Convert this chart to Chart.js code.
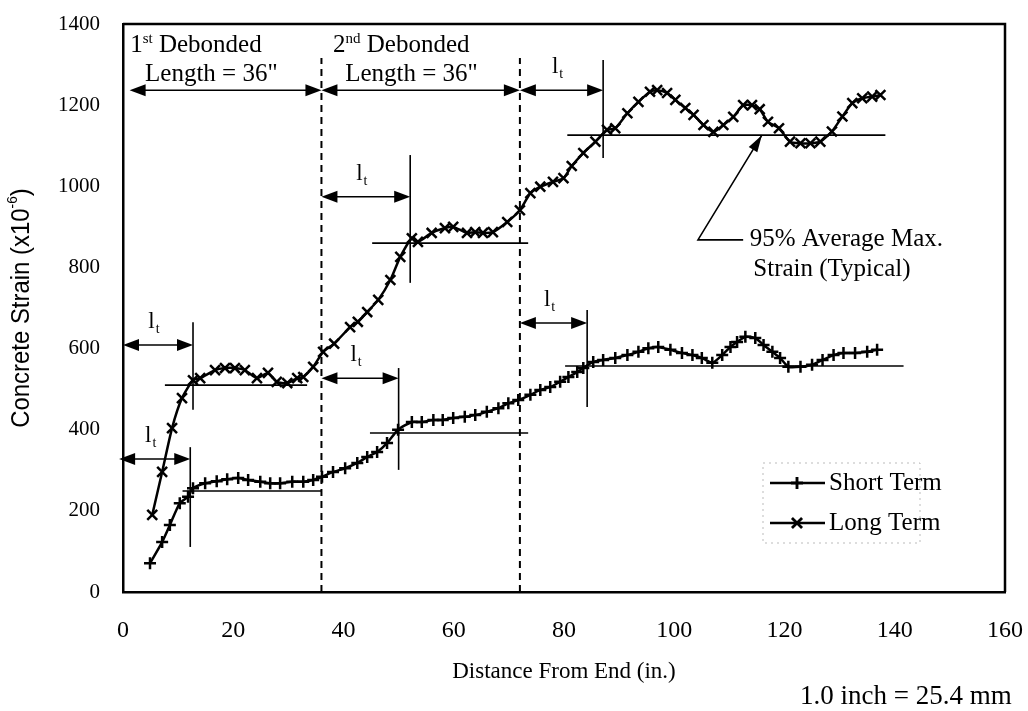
<!DOCTYPE html>
<html>
<head>
<meta charset="utf-8">
<script src="https://cdn.jsdelivr.net/npm/chart.js@4.4.0/dist/chart.umd.min.js"></script>
<style>
  html, body { margin: 0; padding: 0; background: #fff; }
  canvas { display: block; }
</style>
</head>
<body>
<canvas id="strainChart" width="1028" height="711"></canvas>
<script>
// distance from end (in.) and concrete strain (x10^-6)
let shortX = [4.9, 7.1, 8.5, 10.3, 11.8, 12.7, 14.9, 17.0, 18.9, 20.9, 22.7, 24.9, 26.7, 28.5, 30.7, 32.7, 34.5, 36.1,
  38.1, 40.3, 42.5, 44.3, 46.1, 47.9, 49.9, 52.4, 54.2, 56.3, 58.0, 59.9, 62.0, 63.9, 66.0, 68.1, 69.9, 71.7,
  73.9, 75.7, 77.5, 79.3, 80.8, 82.4, 83.5, 85.3, 87.1, 89.3, 91.5, 93.5, 95.3, 97.1, 99.3, 101.4, 103.3, 105.0,
  106.9, 108.7, 110.2, 111.4, 112.9, 114.7, 116.2, 117.8, 119.2, 120.7, 122.9, 125.0, 126.9, 128.9, 130.7, 132.8, 135.0, 136.8];
let shortY = [71, 123, 165, 219, 235, 256, 268, 273, 278, 281, 276, 272, 268, 268, 272, 272, 276, 284,
  296, 305, 318, 333, 345, 367, 400, 419, 419, 424, 424, 429, 432, 436, 444, 453, 465, 473,
  486, 498, 505, 518, 530, 542, 552, 567, 572, 577, 584, 592, 601, 604, 597, 589, 584, 577,
  565, 584, 604, 616, 629, 626, 609, 592, 577, 555, 555, 560, 572, 584, 589, 589, 592, 597];

let longX = [5.3, 7.1, 8.9, 10.7, 12.7, 14.0, 16.7, 18.5, 20.3, 22.1, 24.3, 26.3, 27.9, 29.8, 31.6, 32.7, 34.5, 36.3,
  38.3, 41.2, 42.6, 44.3, 46.3, 48.5, 50.3, 52.4, 53.5, 56.0, 58.4, 59.9, 62.4, 63.9, 65.3, 67.1, 69.7, 72.0,
  73.9, 75.7, 78.0, 79.9, 81.4, 83.5, 85.7, 87.8, 89.3, 91.5, 93.5, 95.6, 96.9, 98.7, 100.2, 102.0, 103.5, 105.3,
  107.1, 108.9, 110.7, 112.5, 114.1, 115.5, 117.0, 119.0, 121.0, 122.9, 124.7, 126.5, 128.6, 130.5, 132.3, 134.1, 135.9, 137.4];
let longY = [190, 296, 404, 478, 522, 527, 547, 552, 552, 547, 527, 540, 518, 515, 527, 530, 555, 592,
  612, 653, 666, 690, 720, 769, 826, 872, 863, 885, 897, 900, 885, 887, 885, 887, 912, 941,
  983, 999, 1011, 1020, 1050, 1082, 1110, 1139, 1143, 1180, 1208, 1233, 1237, 1230, 1213, 1193, 1176, 1151,
  1134, 1151, 1171, 1200, 1200, 1190, 1159, 1143, 1110, 1106, 1106, 1110, 1135, 1172, 1205, 1217, 1221, 1225];

let xTicks = [0, 20, 40, 60, 80, 100, 120, 140, 160];
let yTicks = [0, 200, 400, 600, 800, 1000, 1200, 1400];

// ends of the 1st and 2nd debonded lengths
let debondEnds = [36, 72];

// 95% average max strain levels: [from, to, strain]
let plateauLong = [[7.6, 33.4, 510], [45.2, 73.5, 860], [80.6, 138.3, 1126]];
let plateauShort = [[10.8, 36, 249], [44.8, 73.5, 392], [80.2, 141.6, 557]];

// transfer lengths: [from, to, arrow strain, mark top, mark bottom]
let transferLong = [[0, 12.7, 609, 665, 449], [36, 52.1, 974, 1077, 762], [72, 87.1, 1237, 1311, 1070]];
let transferShort = [[-0.7, 12.2, 328, 357, 111], [36, 50, 527, 552, 301], [72, 84.2, 663, 695, 456]];

const serif = '"Liberation Serif", "Times New Roman", serif';
const sans = '"Liberation Sans", Arial, sans-serif';

function toPoints(xs, ys) {
  return xs.map((x, i) => ({ x: x, y: ys[i] }));
}

function arrowHead(ctx, tipX, tipY, dir) {
  // dir: 1 points right, -1 points left
  ctx.beginPath();
  ctx.moveTo(tipX, tipY);
  ctx.lineTo(tipX - dir * 16, tipY - 6);
  ctx.lineTo(tipX - dir * 16, tipY + 6);
  ctx.closePath();
  ctx.fill();
}

function dimLine(ctx, x1, x2, y) {
  ctx.beginPath();
  ctx.moveTo(x1 + 10, y);
  ctx.lineTo(x2 - 10, y);
  ctx.stroke();
  arrowHead(ctx, x1, y, -1);
  arrowHead(ctx, x2, y, 1);
}

// "l" with subscript "t", centred on cx
function ltLabel(ctx, cx, baseY) {
  ctx.font = '23px ' + serif;
  let w1 = ctx.measureText('l').width;
  ctx.font = '14px ' + serif;
  let w2 = ctx.measureText('t').width;
  let x0 = cx - (w1 + w2 + 1) / 2;
  ctx.textAlign = 'left';
  ctx.textBaseline = 'alphabetic';
  ctx.font = '23px ' + serif;
  ctx.fillText('l', x0, baseY);
  ctx.font = '14px ' + serif;
  ctx.fillText('t', x0 + w1 + 1, baseY + 5);
}

// text with a raised part, e.g. 1st
function supText(ctx, x, y, base, sup, rest, size) {
  ctx.textAlign = 'left';
  ctx.textBaseline = 'alphabetic';
  ctx.font = size + 'px ' + serif;
  ctx.fillText(base, x, y);
  let w = ctx.measureText(base).width;
  ctx.font = Math.round(size * 0.6) + 'px ' + serif;
  ctx.fillText(sup, x + w, y - size * 0.36);
  let w2 = ctx.measureText(sup).width;
  ctx.font = size + 'px ' + serif;
  ctx.fillText(' ' + rest, x + w + w2, y);
}

const annotations = {
  id: 'annotations',
  beforeDatasetsDraw(chart) {
    const ctx = chart.ctx;
    const xs = chart.scales.x, ys = chart.scales.y;
    const px = v => xs.getPixelForValue(v);
    const py = v => ys.getPixelForValue(v);
    ctx.save();
    ctx.strokeStyle = '#000';
    ctx.fillStyle = '#000';

    // dashed boundaries between debonded lengths
    ctx.lineWidth = 2;
    ctx.setLineDash([7, 5]);
    debondEnds.forEach(x => {
      ctx.beginPath();
      ctx.moveTo(px(x), py(0));
      ctx.lineTo(px(x), py(1316));
      ctx.stroke();
    });
    ctx.setLineDash([]);

    // plateau levels
    ctx.lineWidth = 1.6;
    plateauLong.concat(plateauShort).forEach(p => {
      ctx.beginPath();
      ctx.moveTo(px(p[0]), py(p[2]));
      ctx.lineTo(px(p[1]), py(p[2]));
      ctx.stroke();
    });

    // transfer length marks and arrows
    transferLong.concat(transferShort).forEach(t => {
      ctx.lineWidth = 1.6;
      ctx.beginPath();
      ctx.moveTo(px(t[1]), py(t[3]));
      ctx.lineTo(px(t[1]), py(t[4]));
      ctx.stroke();
      ctx.lineWidth = 1.5;
      dimLine(ctx, px(t[0]), px(t[1]), py(t[2]));
      ltLabel(ctx, (px(t[0]) + px(t[1])) / 2 - 4, py(t[2]) - 17);
    });

    // debonded length arrows
    ctx.lineWidth = 1.5;
    dimLine(ctx, px(1.2), px(36), py(1237));
    dimLine(ctx, px(36), px(72), py(1237));

    // leader for the typical 95% level
    ctx.lineWidth = 1.6;
    let tipX = px(115.9), tipY = py(1126);
    let cX = px(104.3), cY = py(868);
    ctx.beginPath();
    ctx.moveTo(px(112.5), cY);
    ctx.lineTo(cX, cY);
    ctx.lineTo(tipX, tipY);
    ctx.stroke();
    let ang = Math.atan2(tipY - cY, tipX - cX);
    ctx.beginPath();
    ctx.moveTo(tipX, tipY);
    ctx.lineTo(tipX - 17 * Math.cos(ang) + 5 * Math.sin(ang), tipY - 17 * Math.sin(ang) - 5 * Math.cos(ang));
    ctx.lineTo(tipX - 17 * Math.cos(ang) - 5 * Math.sin(ang), tipY - 17 * Math.sin(ang) + 5 * Math.cos(ang));
    ctx.closePath();
    ctx.fill();
    ctx.restore();
  },
  afterDraw(chart) {
    const ctx = chart.ctx;
    const xs = chart.scales.x, ys = chart.scales.y;
    const px = v => xs.getPixelForValue(v);
    const py = v => ys.getPixelForValue(v);
    const area = chart.chartArea;
    ctx.save();
    ctx.fillStyle = '#000';
    ctx.strokeStyle = '#000';

    // frame top and right
    ctx.lineWidth = 2.5;
    ctx.beginPath();
    ctx.moveTo(area.left, area.top);
    ctx.lineTo(area.right, area.top);
    ctx.lineTo(area.right, area.bottom);
    ctx.stroke();

    // debonded length labels
    supText(ctx, px(1.3), py(1330), '1', 'st', 'Debonded', 25);
    ctx.font = '25px ' + serif;
    ctx.fillText('Length = 36"', px(4.0), py(1260));
    supText(ctx, px(38.1), py(1330), '2', 'nd', 'Debonded', 25);
    ctx.font = '25px ' + serif;
    ctx.fillText('Length = 36"', px(40.3), py(1260));

    // typical level note
    ctx.font = '25px ' + serif;
    ctx.textBaseline = 'middle';
    ctx.textAlign = 'left';
    ctx.fillText('95% Average Max.', px(113.7), py(868));
    ctx.textAlign = 'center';
    ctx.fillText('Strain (Typical)', px(128.6), py(794));

    // y axis title with exponent
    ctx.save();
    ctx.translate(22, (area.top + area.bottom) / 2);
    ctx.rotate(-Math.PI / 2);
    ctx.scale(0.92, 1);
    ctx.textBaseline = 'middle';
    ctx.textAlign = 'left';
    let main = 'Concrete Strain (x10';
    ctx.font = '26px ' + sans;
    let wMain = ctx.measureText(main).width;
    ctx.font = '15px ' + sans;
    let wExp = ctx.measureText('-6').width;
    ctx.font = '26px ' + sans;
    let wEnd = ctx.measureText(')').width;
    let x0 = -(wMain + wExp + wEnd) / 2;
    ctx.fillText(main, x0, 0);
    ctx.font = '15px ' + sans;
    ctx.fillText('-6', x0 + wMain, -9);
    ctx.font = '26px ' + sans;
    ctx.fillText(')', x0 + wMain + wExp, 0);
    ctx.restore();

    // legend
    let lx = area.right - 242, ly = area.bottom - 129;
    ctx.lineWidth = 1;
    ctx.strokeStyle = '#bbb';
    ctx.setLineDash([2, 4]);
    ctx.strokeRect(lx, ly, 157, 80);
    ctx.setLineDash([]);
    chart.data.datasets.forEach((ds, i) => {
      let y = ly + 20 + i * 40;
      ctx.strokeStyle = '#000';
      ctx.lineWidth = 2.5;
      ctx.beginPath();
      ctx.moveTo(lx + 7, y);
      ctx.lineTo(lx + 62, y);
      ctx.stroke();
      Chart.helpers.drawPoint(ctx, {
        pointStyle: ds.pointStyle, radius: ds.pointRadius, borderWidth: ds.pointBorderWidth, rotation: 0
      }, lx + 34, y);
      ctx.stroke();
      ctx.fillStyle = '#000';
      ctx.font = '25px ' + serif;
      ctx.textAlign = 'left';
      ctx.textBaseline = 'middle';
      ctx.fillText(ds.label, lx + 66, y);
    });

    // unit conversion note
    ctx.font = '27px ' + serif;
    ctx.textAlign = 'left';
    ctx.textBaseline = 'middle';
    ctx.fillText('1.0 inch = 25.4 mm', 800, 697);
    ctx.restore();
  }
};

let ctx = document.getElementById('strainChart').getContext('2d');

let strainChart = new Chart(ctx, {
  type: 'line',
  data: {
    datasets: [{
      label: 'Short Term',
      data: toPoints(shortX, shortY),
      borderColor: '#000',
      borderWidth: 2.5,
      pointStyle: 'cross',
      pointRadius: 6,
      pointBorderWidth: 2.5,
      pointBorderColor: '#000',
      pointBackgroundColor: '#000',
      tension: 0.2,
      fill: false
    }, {
      label: 'Long Term',
      data: toPoints(longX, longY),
      borderColor: '#000',
      borderWidth: 2.5,
      pointStyle: 'crossRot',
      pointRadius: 7,
      pointBorderWidth: 2.5,
      pointBorderColor: '#000',
      pointBackgroundColor: '#000',
      tension: 0.2,
      fill: false
    }]
  },
  options: {
    responsive: false,
    animation: false,
    layout: { padding: { top: 24, right: 23, left: 0, bottom: 0 } },
    plugins: {
      legend: { display: false },
      tooltip: { enabled: false }
    },
    scales: {
      x: {
        type: 'linear',
        min: 0,
        max: 160,
        afterFit: s => { s.height = 119; s.paddingLeft = 0; s.paddingRight = 0; },
        afterBuildTicks: s => { s.ticks = xTicks.map(v => ({ value: v })); },
        grid: { display: false, drawTicks: false },
        border: { display: true, color: '#000', width: 2.5 },
        ticks: { color: '#000', padding: 24, maxRotation: 0, font: { family: serif, size: 24 }, callback: v => String(v) },
        title: {
          display: true,
          text: 'Distance From End (in.)',
          color: '#000',
          font: { family: serif, size: 23 },
          padding: { bottom: 25 }
        }
      },
      y: {
        min: 0,
        max: 1400,
        afterFit: s => { s.width = 123; s.paddingTop = 0; s.paddingBottom = 0; },
        afterBuildTicks: s => { s.ticks = yTicks.map(v => ({ value: v })); },
        grid: { display: false, drawTicks: false },
        border: { display: true, color: '#000', width: 2.5 },
        ticks: { color: '#000', padding: 23, font: { family: serif, size: 21 }, callback: v => String(v) }
      }
    }
  },
  plugins: [annotations]
});
</script>
</body>
</html>
